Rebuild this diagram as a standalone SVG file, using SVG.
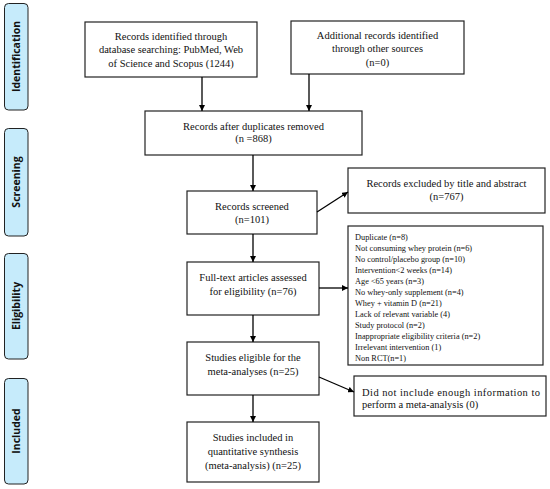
<svg xmlns="http://www.w3.org/2000/svg" width="550" height="489" viewBox="0 0 550 489">
<defs>
<marker id="ah" viewBox="0 0 10 10" refX="10" refY="5" markerWidth="6" markerHeight="6" orient="auto" markerUnits="userSpaceOnUse">
<path d="M0,0 L10,5 L0,10 z" fill="#000"/>
</marker>
<style>
.side{fill:#c6ebfb;stroke:#222;stroke-width:1}
.st{font-family:"Open Sans","Noto Sans",sans-serif;font-weight:bold;font-size:10.5px;fill:#111;text-anchor:middle}
.box{fill:#fff;stroke:#222;stroke-width:1.2}
.t{font-family:"Liberation Serif","Times New Roman",serif;font-size:10.5px;fill:#111;text-anchor:middle}
.s{font-family:"Liberation Serif","Times New Roman",serif;font-size:8.3px;fill:#111}
.c{stroke:#000;stroke-width:1.3;fill:none;marker-end:url(#ah)}
</style>
</defs>
<rect width="550" height="489" fill="#fff"/>
<g id="side-identification"><rect class="side" x="4.5" y="3.5" width="23.5" height="106.5" rx="4"/><text class="st" transform="translate(20,56.5) rotate(-90)">Identification</text></g>
<g id="side-screening"><rect class="side" x="4.5" y="128.5" width="23.5" height="107.5" rx="4"/><text class="st" transform="translate(20,182) rotate(-90)">Screening</text></g>
<g id="side-eligibility"><rect class="side" x="4.5" y="253.5" width="23.5" height="105.5" rx="4"/><text class="st" transform="translate(20,306) rotate(-90)">Eligibility</text></g>
<g id="side-included"><rect class="side" x="4.5" y="378.5" width="23.5" height="105.5" rx="4"/><text class="st" transform="translate(20,431) rotate(-90)">Included</text></g>

<g id="n-identified"><rect class="box" x="85" y="22" width="172" height="55"/>
<text class="t" x="171" y="39.5">Records identified through</text>
<text class="t" x="171" y="53">database searching: PubMed, Web</text>
<text class="t" x="171" y="66.5">of Science and Scopus (1244)</text></g>
<g id="n-additional"><rect class="box" x="291" y="21" width="173" height="53"/>
<text class="t" x="377.5" y="38.5">Additional records identified</text>
<text class="t" x="377.5" y="52">through other sources</text>
<text class="t" x="377.5" y="65.5">(n=0)</text></g>
<g id="n-dedup"><rect class="box" x="145" y="111" width="217" height="44"/>
<text class="t" x="253.5" y="129.5">Records after duplicates removed</text>
<text class="t" x="253.5" y="141.5">(n =868)</text></g>
<g id="n-screened"><rect class="box" x="187" y="191" width="130" height="43"/>
<text class="t" x="252" y="209.5">Records screened</text>
<text class="t" x="252" y="222.5">(n=101)</text></g>
<g id="n-excluded"><rect class="box" x="348" y="168" width="197" height="45"/>
<text class="t" x="446.5" y="186.5">Records excluded by title and abstract</text>
<text class="t" x="446.5" y="199.5">(n=767)</text></g>
<g id="n-fulltext"><rect class="box" x="187" y="262" width="132" height="53"/>
<text class="t" x="253" y="280.5">Full-text articles assessed</text>
<text class="t" x="253" y="294.5">for eligibility (n=76)</text></g>
<g id="n-reasons"><rect class="box" x="348" y="226" width="195" height="139"/>
<text class="s" x="355" y="240">Duplicate (n=8)</text>
<text class="s" x="355" y="251">Not consuming whey protein (n=6)</text>
<text class="s" x="355" y="262">No control/placebo group (n=10)</text>
<text class="s" x="355" y="273">Intervention&lt;2 weeks (n=14)</text>
<text class="s" x="355" y="284">Age &lt;65 years (n=3)</text>
<text class="s" x="355" y="295">No whey-only supplement (n=4)</text>
<text class="s" x="355" y="306">Whey + vitamin D (n=21)</text>
<text class="s" x="355" y="317">Lack of relevant variable (4)</text>
<text class="s" x="355" y="328">Study protocol (n=2)</text>
<text class="s" x="355" y="339">Inappropriate eligibility criteria (n=2)</text>
<text class="s" x="355" y="350">Irrelevant intervention (1)</text>
<text class="s" x="355" y="361">Non RCT(n=1)</text></g>
<g id="n-eligible"><rect class="box" x="187" y="342" width="132" height="53"/>
<text class="t" x="253" y="360.5">Studies eligible for the</text>
<text class="t" x="253" y="374.5">meta-analyses (n=25)</text></g>
<g id="n-noinfo"><rect class="box" x="354" y="376" width="192" height="40"/>
<text class="t" x="362" y="395.5" style="text-anchor:start" textLength="178" lengthAdjust="spacing">Did not include enough information to</text>
<text class="t" x="362" y="408" style="text-anchor:start">perform a meta-analysis (0)</text></g>
<g id="n-included"><rect class="box" x="187" y="422" width="132" height="60"/>
<text class="t" x="253" y="440.5">Studies included in</text>
<text class="t" x="253" y="454.5">quantitative synthesis</text>
<text class="t" x="253" y="468.5">(meta-analysis) (n=25)</text></g>

<g id="connectors">
<line class="c" x1="202" y1="77" x2="202" y2="111"/>
<line class="c" x1="309" y1="74" x2="309" y2="111"/>
<line class="c" x1="253" y1="155" x2="253" y2="191"/>
<line class="c" x1="317" y1="212" x2="348" y2="192"/>
<line class="c" x1="253" y1="234" x2="253" y2="262"/>
<line class="c" x1="319" y1="288" x2="348" y2="288"/>
<line class="c" x1="253" y1="315" x2="253" y2="342"/>
<line class="c" x1="319" y1="377" x2="354" y2="392"/>
<line class="c" x1="253" y1="395" x2="253" y2="422"/>
</g>
</svg>
